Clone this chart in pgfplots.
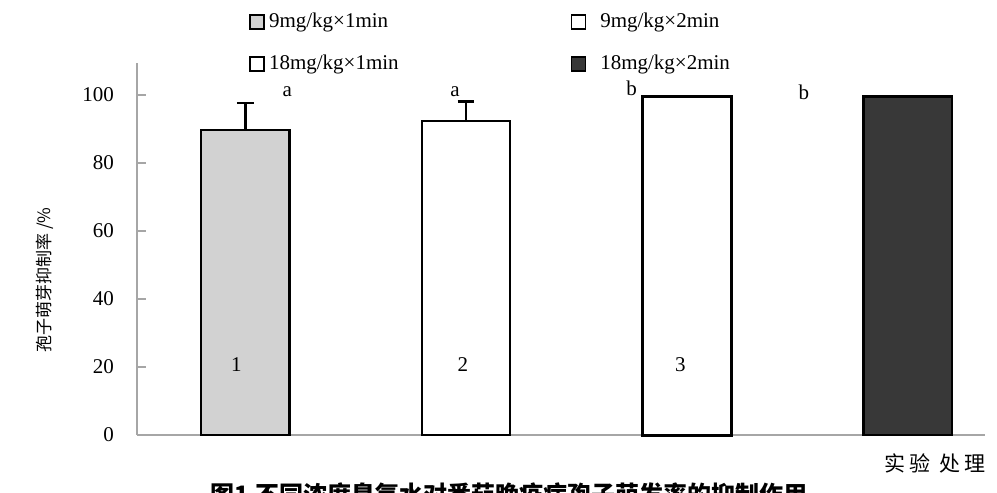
\documentclass[border=0pt]{standalone}
\usepackage{pgfplots}
\pgfplotsset{compat=1.18}
\usepackage{fontspec}
\setmainfont{Liberation Serif}
\newfontfamily\cjk{Noto Sans CJK SC}
\begin{document}
\begin{tikzpicture}
\useasboundingbox (0,0) rectangle (498.5pt,-246.5pt);
\begin{axis}[
  at={(68.5pt,-31.5pt)}, anchor=north west,
  scale only axis, width=424pt, height=186pt,
  xmin=-0.49, xmax=3.35, ymin=0, ymax=109.4,
  axis lines*=left, axis line style={-, gray!70, line width=0.6pt},
  ytick={0,20,40,60,80,100}, xtick=\empty,
  tick align=inside, major tick length=4.5pt,
  tick style={gray!70, line width=0.6pt},
  /pgf/number format/assume math mode=true,
  yticklabel style={font=\fontsize{10.5}{12}\selectfont, xshift=-8pt},
  ybar, bar width=0.40, bar shift=0pt,
  clip=false,
  legend columns=2,
  legend cell align=left,
  legend style={at={(0.125,1.156)}, anchor=north west, draw=none, fill=none,
    font=\fontsize{10.5}{12}\selectfont, row sep=8pt,
    /tikz/every even column/.append style={column sep=84pt}},
  mylegend/.style={legend image code/.code={\draw[##1, line width=0.8pt] (0pt,-3.5pt) rectangle (7pt,3.5pt);}},
]
\addplot+[mylegend, draw=black, fill=gray!35, line width=1.2pt,
  error bars/.cd, y dir=plus, y explicit, error mark=-,
  error bar style={black, line width=1.3pt},
  error mark options={black, line width=1.3pt, mark size=4.2pt, rotate=90}]
  coordinates {(0,89.7) +- (0,7.9)};
\addplot+[mylegend, draw=black, fill=white, line width=1.2pt,
  error bars/.cd, y dir=plus, y explicit, error mark=-,
  error bar style={black, line width=1.3pt},
  error mark options={black, line width=1.3pt, mark size=4.2pt, rotate=90}]
  coordinates {(1,92.4) +- (0,5.6)};
\addplot+[mylegend, draw=black, fill=white, line width=1.5pt]
  coordinates {(2,99.5)};
\addplot+[mylegend, draw=black, fill=black!78, line width=1.2pt]
  coordinates {(3,99.5)};
\legend{9mg/kg×1min, \hspace{5pt}9mg/kg×2min, 18mg/kg×1min, \hspace{5pt}18mg/kg×2min}
\node[font=\fontsize{10.5}{12}\selectfont] at (axis cs:0.19,100.9) {a};
\node[font=\fontsize{10.5}{12}\selectfont] at (axis cs:0.95,100.9) {a};
\node[font=\fontsize{10.5}{12}\selectfont] at (axis cs:1.75,102.0) {b};
\node[font=\fontsize{10.5}{12}\selectfont] at (axis cs:2.53,100.9) {b};
\node[font=\fontsize{10.5}{12}\selectfont] at (axis cs:-0.04,20.6) {1};
\node[font=\fontsize{10.5}{12}\selectfont] at (axis cs:0.986,20.6) {2};
\node[font=\fontsize{10.5}{12}\selectfont] at (axis cs:1.97,20.6) {3};
\end{axis}
\node[rotate=90, font=\cjk\fontsize{8.5}{10}\selectfont] at (22.5pt,-140pt) {孢子萌芽抑制率 /\%};
\node[anchor=north, font=\cjk\bfseries\fontsize{12}{14}\selectfont] at (254.5pt,-238pt) {图1 不同浓度臭氧水对番茄晚疫病孢子萌发率的抑制作用};
\node[font=\cjk\fontsize{10.5}{12}\selectfont] at (467.5pt,-231.5pt) {实\,验\ \ 处\,理};
\end{tikzpicture}
\end{document}
